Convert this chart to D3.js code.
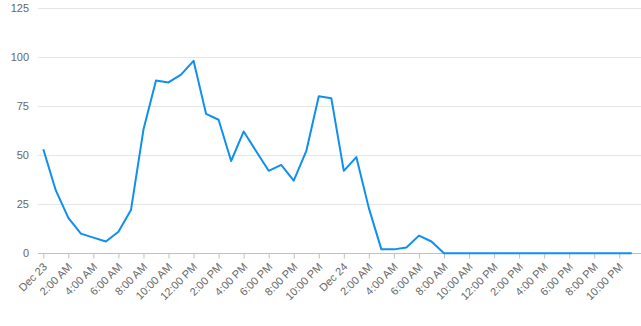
<!DOCTYPE html>
<html>
<head>
<meta charset="utf-8">
<script src="https://cdn.jsdelivr.net/npm/d3@7"></script>
<style>
  body { margin: 0; background: #fff; }
  svg { display: block; font-family: "Liberation Sans", Arial, Helvetica, sans-serif; }
</style>
</head>
<body>
<script>
// hourly values, Dec 23 00:00 .. Dec 24 23:00
const values = [
  53, 32, 18, 10, 8, 6, 11, 22, 63, 88, 87, 91,
  98, 71, 68, 47, 62, 52, 42, 45, 37, 52, 80, 79,
  42, 49, 23, 2, 2, 3, 9, 6, 0, 0, 0, 0,
  0, 0, 0, 0, 0, 0, 0, 0, 0, 0, 0, 0
];
const yTicks = [0, 25, 50, 75, 100, 125];
const start = new Date(2020, 11, 23, 0);

const times = d3.timeHour.range(start, d3.timeHour.offset(start, values.length));
const data = times.map((t, i) => ({ t, v: values[i] }));

const width = 641, height = 326;
const plotLeft = 38, plotRight = 641;

const svg = d3.select('body').append('svg')
  .attr('width', width)
  .attr('height', height);

const x = d3.scaleTime()
  .domain([times[0], times[times.length - 1]])
  .range([43.3, 631.8]);

const y = d3.scaleLinear()
  .domain([0, 125])
  .range([253.3, 7.8]);

// grid lines
svg.append('g')
  .selectAll('line')
  .data(yTicks.filter(d => d > 0))
  .enter().append('line')
  .attr('x1', plotLeft)
  .attr('x2', plotRight)
  .attr('y1', d => Math.round(y(d)) + 0.5)
  .attr('y2', d => Math.round(y(d)) + 0.5)
  .attr('stroke', '#e6e6e6');

// y labels
svg.append('g')
  .selectAll('text')
  .data(yTicks)
  .enter().append('text')
  .attr('x', 29)
  .attr('y', d => y(d) + 4)
  .attr('text-anchor', 'end')
  .attr('fill', '#666')
  .attr('font-size', 11)
  .text(d => d);

// x axis
const fmt = d => d.getHours() === 0 ? d3.timeFormat('%b %d')(d) : d3.timeFormat('%-I:%M %p')(d);
const xAxis = d3.axisBottom(x)
  .ticks(d3.timeHour.every(2))
  .tickFormat(fmt)
  .tickSize(5)
  .tickSizeOuter(0);

const gx = svg.append('g')
  .attr('transform', `translate(0,${Math.round(y(0)) + 0.5})`)
  .call(xAxis);

gx.select('.domain').remove();
gx.append('line')
  .attr('x1', plotLeft)
  .attr('x2', plotRight)
  .attr('stroke', '#ccd6eb')
  .attr('stroke', '#c0c0c0');
gx.selectAll('.tick line').attr('stroke', '#c0c0c0');
gx.selectAll('.tick text')
  .attr('fill', '#666')
  .attr('font-size', 11)
  .attr('text-anchor', 'end')
  .attr('dy', null)
  .attr('y', 0)
  .attr('transform', 'translate(4,14) rotate(-45)');

// line
svg.append('path')
  .datum(data)
  .attr('fill', 'none')
  .attr('stroke', '#0f8ff0')
  .attr('stroke-width', 2)
  .attr('stroke-linejoin', 'round')
  .attr('d', d3.line().x(d => x(d.t)).y(d => y(d.v)));
</script>
</body>
</html>
